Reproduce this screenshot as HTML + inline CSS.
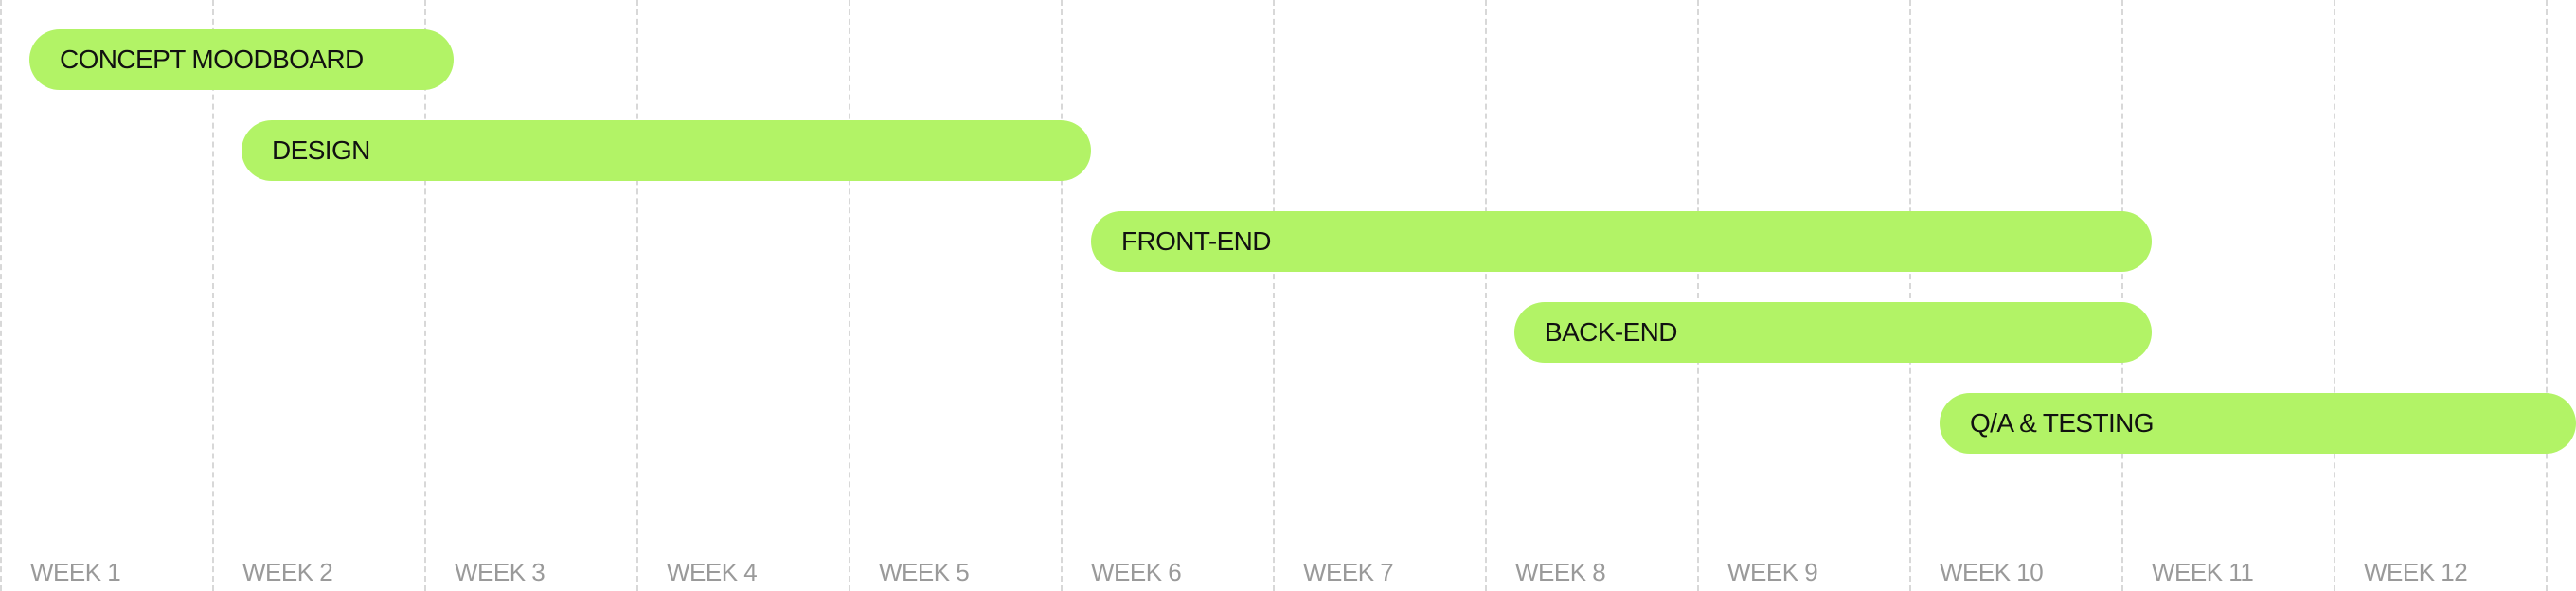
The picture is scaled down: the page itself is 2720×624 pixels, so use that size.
<!DOCTYPE html>
<html><head><meta charset="utf-8"><style>
html,body{margin:0;padding:0;background:#fff;}
body{width:2720px;height:624px;position:relative;overflow:hidden;font-family:"Liberation Sans",sans-serif;}
.g{position:absolute;top:0;height:624px;width:0;border-left:2px dashed #d8d8d8;}
.b{position:absolute;height:64px;border-radius:32px;background:#b2f366;color:#111;font-size:28px;line-height:64px;padding-left:32px;box-sizing:border-box;letter-spacing:-0.6px;}
.w{position:absolute;top:589px;font-size:26px;color:#9a9a9a;letter-spacing:-0.5px;}
</style></head><body>
<div class="g" style="left:0px"></div>
<div class="g" style="left:224px"></div>
<div class="g" style="left:448px"></div>
<div class="g" style="left:672px"></div>
<div class="g" style="left:896px"></div>
<div class="g" style="left:1120px"></div>
<div class="g" style="left:1344px"></div>
<div class="g" style="left:1568px"></div>
<div class="g" style="left:1792px"></div>
<div class="g" style="left:2016px"></div>
<div class="g" style="left:2240px"></div>
<div class="g" style="left:2464px"></div>
<div class="g" style="left:2688px"></div>

<div class="b" style="left:31px;top:31px;width:448px">CONCEPT MOODBOARD</div>
<div class="b" style="left:255px;top:127px;width:897px">DESIGN</div>
<div class="b" style="left:1152px;top:223px;width:1120px">FRONT-END</div>
<div class="b" style="left:1599px;top:319px;width:673px">BACK-END</div>
<div class="b" style="left:2048px;top:415px;width:672px">Q/A &amp; TESTING</div>

<div class="w" style="left:32px">WEEK 1</div>
<div class="w" style="left:256px">WEEK 2</div>
<div class="w" style="left:480px">WEEK 3</div>
<div class="w" style="left:704px">WEEK 4</div>
<div class="w" style="left:928px">WEEK 5</div>
<div class="w" style="left:1152px">WEEK 6</div>
<div class="w" style="left:1376px">WEEK 7</div>
<div class="w" style="left:1600px">WEEK 8</div>
<div class="w" style="left:1824px">WEEK 9</div>
<div class="w" style="left:2048px">WEEK 10</div>
<div class="w" style="left:2272px">WEEK 11</div>
<div class="w" style="left:2496px">WEEK 12</div>
</body></html>
